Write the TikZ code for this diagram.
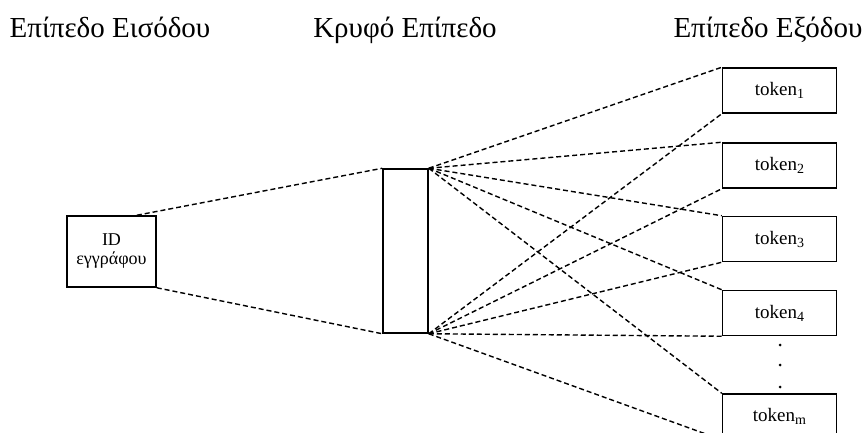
\documentclass[tikz,border=0pt]{standalone}
\usepackage{fontspec}
\setmainfont{Liberation Serif}
\usetikzlibrary{calc}
\newcommand{\tsub}[1]{\raisebox{-0.35ex}{\fontsize{14}{14}\selectfont #1}}
\begin{document}
\begin{tikzpicture}[x=1pt,y=-1pt,
  box/.style={draw,line width=1.5pt,inner sep=0pt,font=\fontsize{19}{21}\selectfont},
  tok/.style={box,minimum width=114pt,minimum height=45pt},
  conn/.style={line width=1.4pt,dash pattern=on 5pt off 3pt},
  title/.style={anchor=base,font=\fontsize{29}{33}\selectfont,inner sep=0pt},
  dot/.style={fill,circle,inner sep=0pt,minimum size=3pt}]
\useasboundingbox (0,0) rectangle (865,432);
\node[title] (t1) at (110,37) {Επίπεδο Εισόδου};
\node[title] (t2) at (405,37) {Κρυφό Επίπεδο};
\node[title] (t3) at (768,37) {Επίπεδο Εξόδου};
\node[box,minimum width=89pt,minimum height=71pt,align=center,font=\fontsize{18}{20}\selectfont] (id) at (111.5,251.5) {ID\\[-1pt]εγγράφου};
\node[box,minimum width=45pt,minimum height=164pt] (hid) at (405.5,251) {};
\node[tok] (k1) at (779.5,90.5) {token\tsub{1}};
\node[tok] (k2) at (779.5,165.5) {token\tsub{2}};
\node[tok] (k3) at (779.5,239) {token\tsub{3}};
\node[tok] (k4) at (779.5,313) {token\tsub{4}};
\node[tok] (km) at (779.5,416.5) {token\tsub{m}};
\node[dot] (d1) at (780,345) {};
\node[dot] (d2) at (780,365) {};
\node[dot] (d3) at (780,387) {};
\coordinate (idt) at ($(id.north west)!0.78!(id.north east)$);
\draw[conn] (idt) -- (hid.north west);
\draw[conn] (id.south east) -- (hid.south west);
\foreach \k in {k1,k2,k3,k4,km}{
  \draw[conn] (hid.north east) -- (\k.north west);
  \draw[conn] (hid.south east) -- (\k.south west);
}
\end{tikzpicture}
\end{document}
